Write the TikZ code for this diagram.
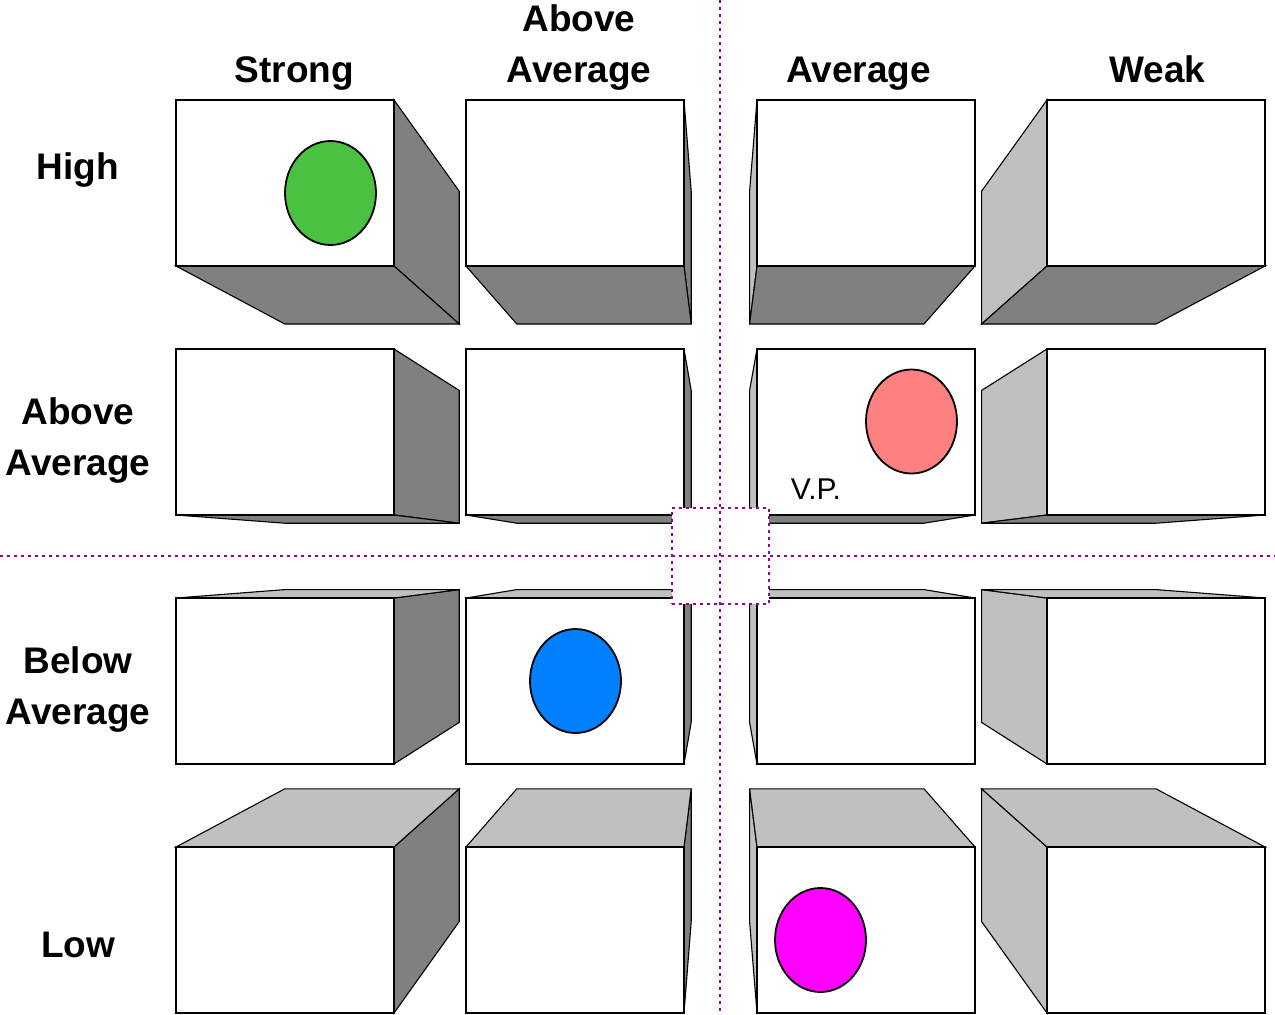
\documentclass[tikz,border=0pt]{standalone}
\usepackage{fontspec}
\setmainfont{Liberation Sans}
\usetikzlibrary{calc}
\definecolor{darkface}{HTML}{808080}
\definecolor{lightface}{HTML}{C0C0C0}
\definecolor{guide}{HTML}{990099}
\definecolor{dotgreen}{HTML}{4AC140}
\definecolor{dotred}{HTML}{FF8080}
\definecolor{dotblue}{HTML}{0080FF}
\definecolor{dotmagenta}{HTML}{FF00FF}
\tikzset{
  face/.style={draw=black, line width=1.1pt, line join=miter},
  frontface/.style={face, fill=white},
  guideline/.style={draw=guide, line width=1.8pt, dash pattern=on 3pt off 4pt},
  marker/.style={draw=black, line width=1.8pt},
  head/.style={font=\fontsize{37}{51}\selectfont\bfseries, align=center, inner sep=0pt, anchor=base},
  vplabel/.style={font=\fontsize{30}{34}\selectfont, inner sep=0pt, anchor=base}
}
\newcommand\drawcube[4]{%
  \coordinate (tl) at (#1,#2);
  \coordinate (tr) at (#3,#2);
  \coordinate (br) at (#3,#4);
  \coordinate (bl) at (#1,#4);
  \coordinate (btl) at ($(vp)!0.8!(tl)$);
  \coordinate (btr) at ($(vp)!0.8!(tr)$);
  \coordinate (bbr) at ($(vp)!0.8!(br)$);
  \coordinate (bbl) at ($(vp)!0.8!(bl)$);
  \ifdim #3pt<720pt \path[face, fill=darkface] (tr) -- (btr) -- (bbr) -- (br) -- cycle; \fi
  \ifdim #1pt>720pt \path[face, fill=lightface] (tl) -- (btl) -- (bbl) -- (bl) -- cycle; \fi
  \ifdim #4pt<556pt \path[face, fill=darkface] (bl) -- (br) -- (bbr) -- (bbl) -- cycle; \fi
  \ifdim #2pt>556pt \path[face, fill=lightface] (tl) -- (tr) -- (btr) -- (btl) -- cycle; \fi
  \path[frontface] (tl) rectangle (br);
}
\begin{document}
\begin{tikzpicture}[x=1pt, y=-1pt]
\useasboundingbox[fill=white] (0,0) rectangle (1275,1015);
\coordinate (vp) at (720,556);

\foreach \ya/\yb in {100/266, 349/515, 598/764, 847/1013}{
  \foreach \xa/\xb in {176/394, 466/684, 757/975, 1047/1265}{
    \drawcube{\xa}{\ya}{\xb}{\yb}
  }
}

% markers
\path[marker, fill=dotgreen] (330.5,193) ellipse [x radius=45.5, y radius=52];
\path[marker, fill=dotred] (911.5,421.5) ellipse [x radius=45.5, y radius=52];
\path[marker, fill=dotblue] (575.5,681) ellipse [x radius=45.5, y radius=52];
\path[marker, fill=dotmagenta] (820.5,940) ellipse [x radius=45.5, y radius=52];

\node[vplabel] (vplab) at (816,499) {V.P.};

% guide lines
\coordinate (vtop) at (720,0);
\coordinate (vbot) at (720,1015);
\coordinate (hl) at (0,556);
\coordinate (hr) at (1275,556);
\node[draw=guide, fill=white, line width=1.8pt, dash pattern=on 3pt off 4pt, minimum width=97pt, minimum height=96pt, inner sep=0pt] (vpbox) at (720.5,556) {};
\draw[guideline] (vtop) -- (vbot);
\draw[guideline] (hl) -- (hr);

% column headers
\node[head] (c1) at (294.5,82) {Strong};
\node[head] (c2) at (579,82) {Above\\Average};
\node[head] (c3) at (858.5,82) {Average};
\node[head] (c4) at (1157.5,82) {Weak};

% row headers
\node[head] (r1) at (78,179) {High};
\node[head] (r2) at (78,475) {Above\\Average};
\node[head] (r3) at (78,724) {Below\\Average};
\node[head] (r4) at (78,957) {Low};
\end{tikzpicture}
\end{document}
